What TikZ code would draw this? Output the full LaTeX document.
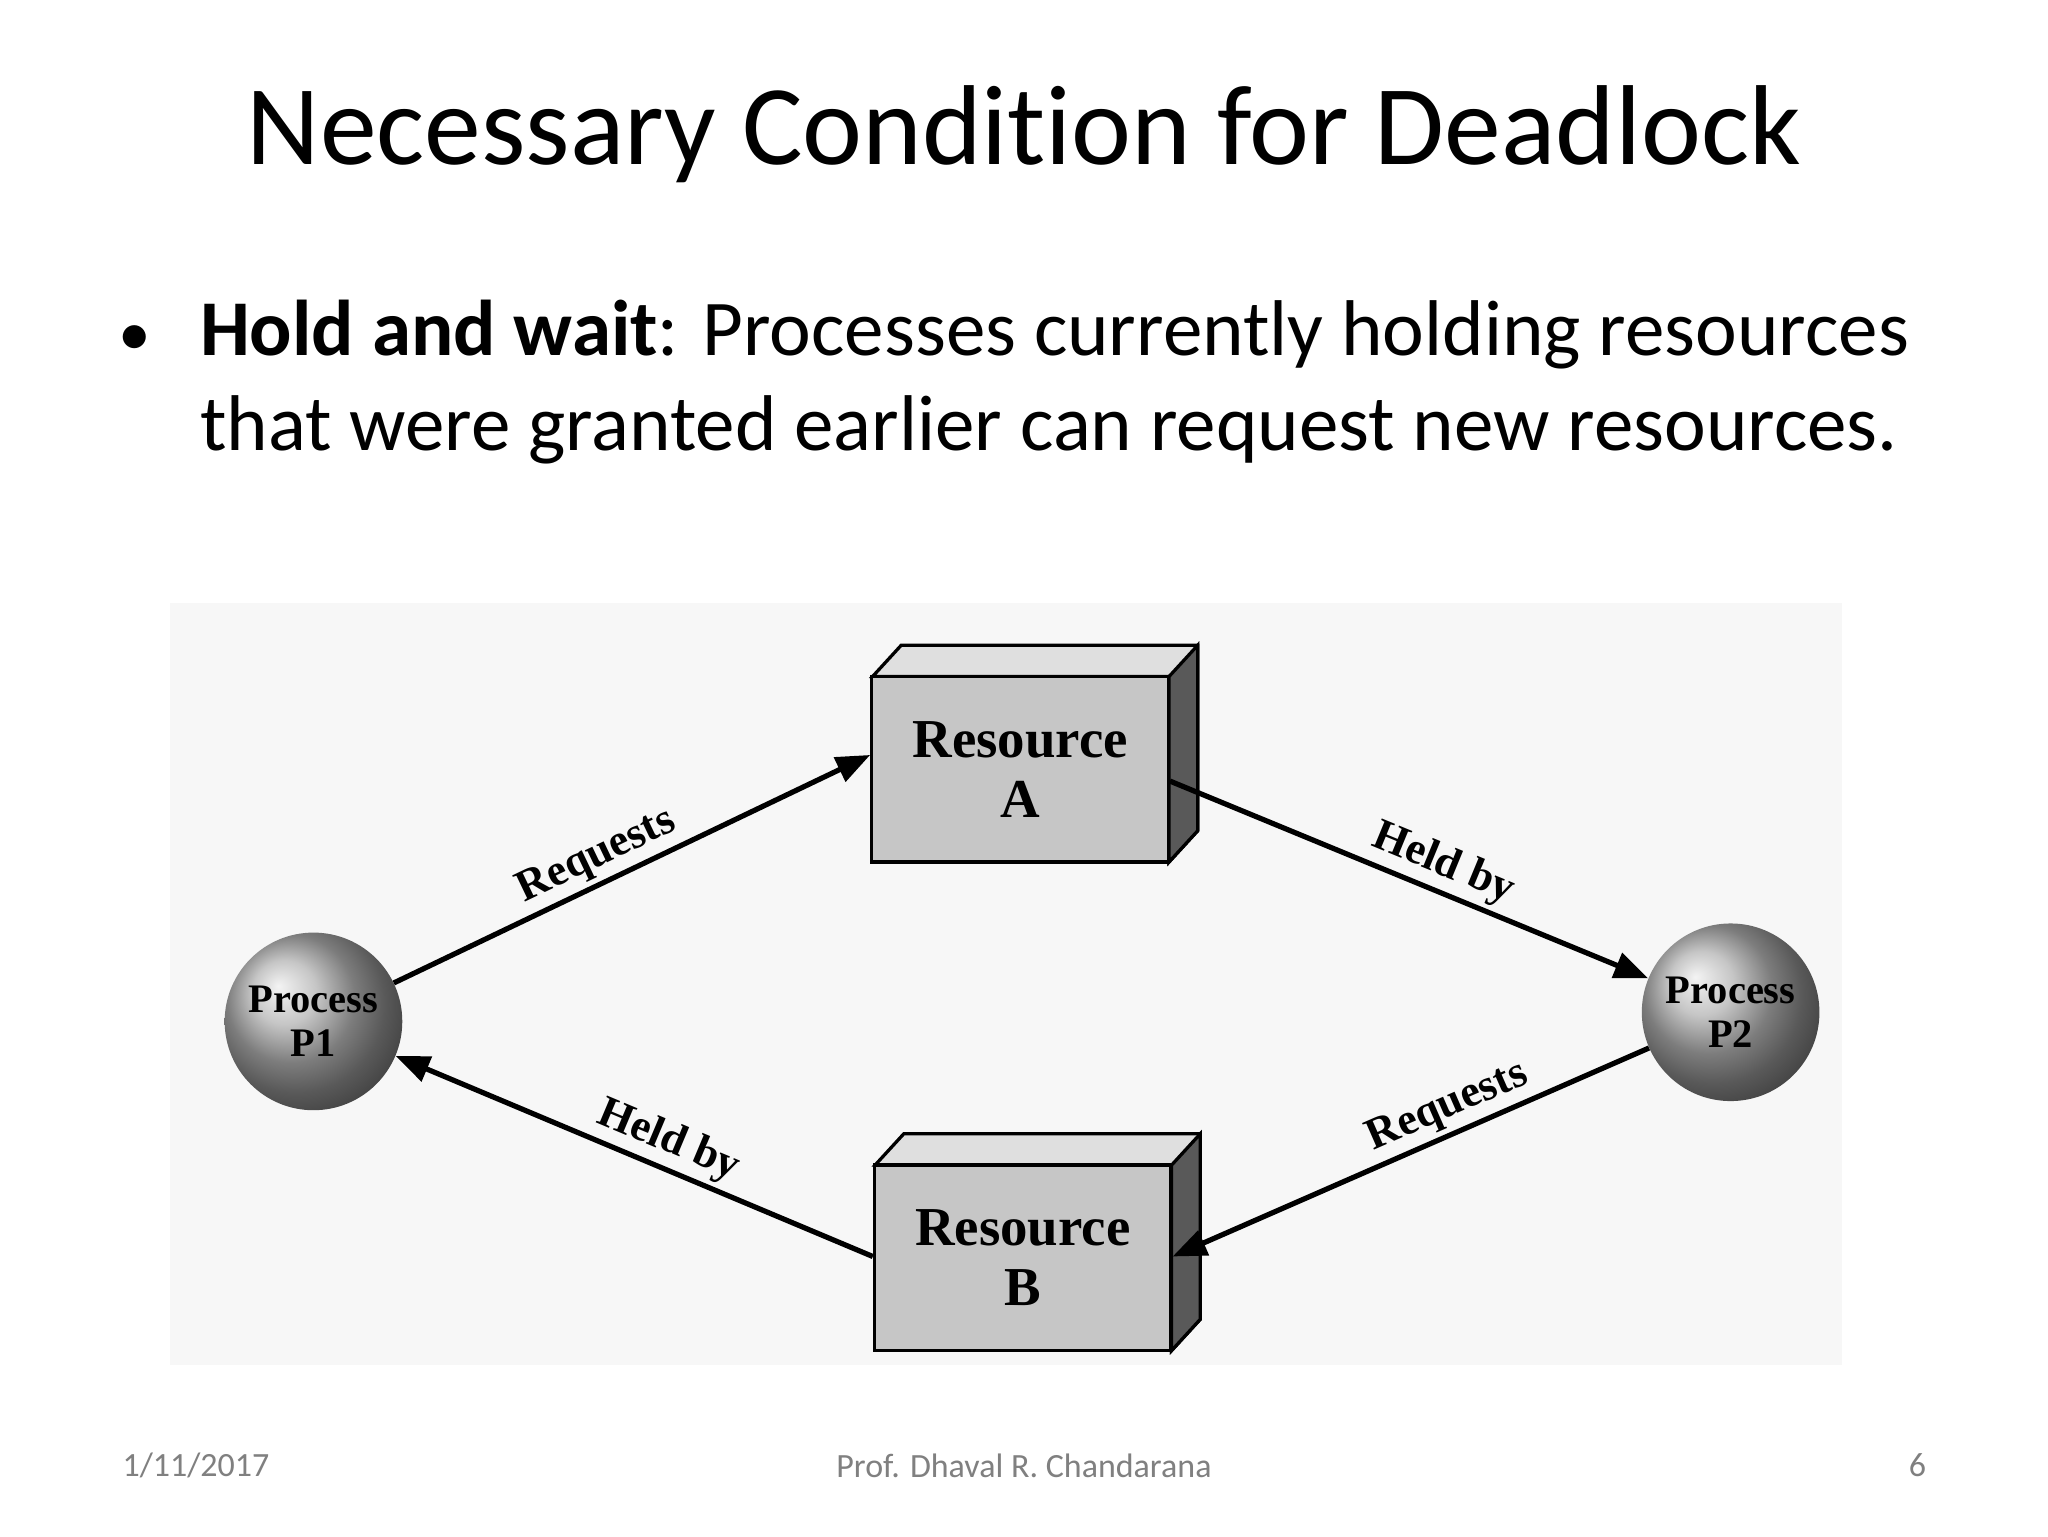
\documentclass[tikz,border=0pt]{standalone}
\usepackage{fontspec}
\setmainfont[Ligatures=NoCommon]{Carlito}
\newfontfamily\tms{Liberation Serif}
\usetikzlibrary{arrows.meta,calc}
\begin{document}
\begin{tikzpicture}[x=1pt,y=-1pt,
  box/.style={draw=black,line width=2.5pt,fill=gray!45,minimum width=227pt,minimum height=142pt,inner sep=0pt,font=\tms\bfseries\fontsize{42}{46}\selectfont,align=center},
  proc/.style={circle,minimum size=136pt,inner sep=0pt,ball color=gray!60,font=\tms\bfseries\fontsize{31}{34}\selectfont,align=center},
  arr/.style={line width=4pt,-{Triangle[length=26pt,width=20pt]}},
  lbl/.style={font=\tms\bfseries\fontsize{34}{36}\selectfont,above,sloped},
  body/.style={font=\fontsize{60.5}{73}\selectfont,anchor=base west,inner sep=0pt},
  foot/.style={font=\fontsize{26}{30}\selectfont,text=gray}]
\useasboundingbox (0,0) rectangle (1568,1176);
\fill[white] (0,0) rectangle (1568,1176);
\fill[gray!6] (130,462) rectangle (1410,1045);
\node[font=\fontsize{87}{96}\selectfont] (title) at (784,103) {Necessary Condition for Deadlock};
\node[body] (txt1) at (153,272) {\textbf{Hold and wait}: Processes currently holding resources};
\node[body] (txt2) at (153,345) {that were granted earlier can request new resources.};
\node[font=\fontsize{50}{60}\selectfont,anchor=base] (bul) at (103,272) {•};
% boxes
\foreach \n/\cx/\cy/\t in {A/781/589/{Resource\\A},B/783/963/{Resource\\B}}{
  \fill[gray!25,draw=black,line width=2.5pt] (\cx-113,\cy-71) -- ++(22,-24) -- ++(227,0) -- ++(0,142) -- ++(-22,24) -- ++(0,-142) -- cycle;
  \fill[gray!70!black,draw=black,line width=2.5pt] (\cx+114,\cy-71) -- ++(22,-24) -- ++(0,142) -- ++(-22,24) -- cycle;
  \node[box] (\n) at (\cx,\cy) {\t};
}
\node[proc] (P1) at (240,782) {Process\\P1};
\node[proc] (P2) at (1325,775) {Process\\P2};
\draw[arr] (P1) -- node[lbl,pos=0.45]{Requests} (A.west |- 0,578);
\draw[arr] (A.east |- 0,598) -- node[lbl,pos=0.55]{Held by} (P2);
\draw[arr] (P2) -- node[lbl,pos=0.4]{Requests} (B.east |- 0,962) ;
\draw[arr] (B.west |- 0,962) -- node[lbl,pos=0.45]{Held by} (P1);
\node[foot] (d) at (150,1122) {1/11/2017};
\node[foot] (a) at (784,1122) {Prof. Dhaval R. Chandarana};
\node[foot] (n) at (1468,1122) {6};
\end{tikzpicture}
\end{document}
